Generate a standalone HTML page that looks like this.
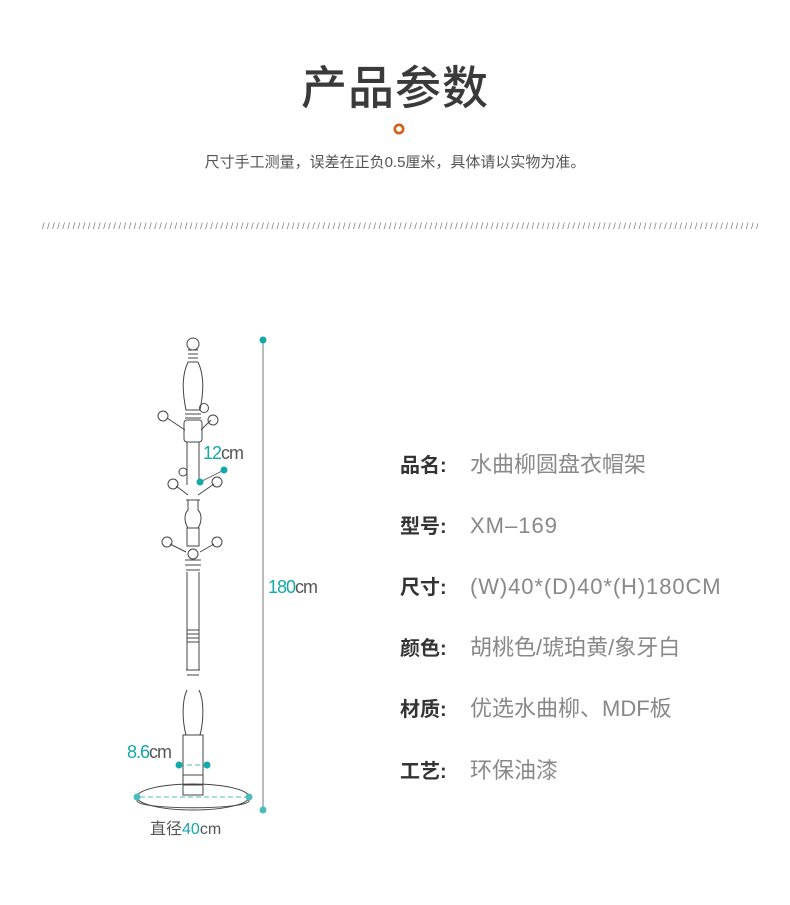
<!DOCTYPE html>
<html><head><meta charset="utf-8"><style>
body{margin:0;width:790px;height:905px;background:#fff;position:relative;overflow:hidden;font-family:"Liberation Sans","Noto Sans CJK SC",sans-serif}
.t{position:absolute;left:0;width:790px;text-align:center}
.row{position:absolute;left:400px;font-size:20px;line-height:26px;white-space:nowrap}
.row b{color:#333;font-weight:bold;display:inline-block;width:70px}
.row span{color:#888;font-size:22px}
</style></head><body>
<div class="t" style="top:60px;font-size:46px;line-height:56px;color:#3a3a3a;font-weight:500;letter-spacing:1px">产品参数</div>
<svg style="position:absolute;left:392px;top:122px" width="14" height="14"><circle cx="7" cy="7" r="4.2" fill="none" stroke="#d2601a" stroke-width="2.6"/></svg>
<div class="t" style="top:153px;font-size:15px;line-height:20px;color:#555">尺寸手工测量，误差在正负0.5厘米，具体请以实物为准。</div>
<div style="position:absolute;left:42px;top:221px;width:716px;overflow:hidden;white-space:nowrap;font-size:9px;color:#777;letter-spacing:2.6px">////////////////////////////////////////////////////////////////////////////////////////////////////////////////////////////////////////////////////////////////////////////////////////////////////////////////////////////</div>

<svg style="position:absolute;left:0;top:0" width="790" height="905" fill="none" stroke="#444" stroke-width="1">
 <line x1="263" y1="340" x2="263" y2="810" stroke="#777"/>
 <circle cx="263" cy="340" r="3.5" fill="#14a8a8" stroke="none"/>
 <circle cx="263" cy="810" r="3.5" fill="#4bbcbc" stroke="none"/>
 <circle cx="193" cy="344" r="6"/>
 <path d="M188 350 h10 M188 354 h10 M188 358 h10 M188 362 h10"/>
 <path d="M188 362 C182 375,182 390,186 410 L200 410 C204 390,204 375,198 362"/>
 <path d="M186 410 h14 M185 414 h16 M185 418 h16"/>
 <rect x="184" y="420" width="18" height="22" rx="3"/>
 <line x1="187" y1="442" x2="187" y2="485"/><line x1="199" y1="442" x2="199" y2="485"/>
 <path d="M185 430 L167 418"/><circle cx="163" cy="416" r="5"/>
 <path d="M201 430 L211 420"/><circle cx="213" cy="420" r="5"/>
 <circle cx="204" cy="408" r="4.5"/>
 <path d="M188 495 L176 486"/><circle cx="173" cy="484" r="5"/>
 <path d="M198 495 L214 484"/><circle cx="217" cy="482" r="5"/>
 <circle cx="183" cy="472" r="4"/>
 <path d="M186 500 h14 M188 500 v10 C184 514,184 522,188 528 M198 500 v10 C202 514,202 522,198 528"/>
 <rect x="187" y="528" width="12" height="18"/>
 <path d="M186 552 L170 544"/><circle cx="167" cy="542" r="5"/>
 <path d="M200 552 L214 544"/><circle cx="217" cy="542" r="5"/>
 <circle cx="193" cy="554" r="5"/>
 <path d="M185 560 h16 M185 565 h16 M186 570 h14"/>
 <path d="M187 572 V670 M199 572 V670"/>
 <path d="M187 630 h12 M187 634 h12 M187 638 h12 M187 642 h12"/>
 <path d="M186 670 h14 M187 675 h12"/>
 <path d="M187 690 C182 700,182 720,186 735 L200 735 C204 720,204 700,199 690"/>
 <rect x="183" y="735" width="20" height="60"/>
 <path d="M183 775 h20 M183 785 h20"/>
 <ellipse cx="193" cy="797" rx="56" ry="13"/>
 <path d="M137 797 v4 C140 810,246 810,249 801 v-4"/>
 <line x1="140" y1="797" x2="247" y2="797" stroke="#4bbcbc" stroke-dasharray="5 3"/>
 <circle cx="137" cy="797" r="3.5" fill="#4bbcbc" stroke="none"/>
 <circle cx="249" cy="797" r="3.5" fill="#4bbcbc" stroke="none"/>
 <line x1="179" y1="765" x2="207" y2="765" stroke="#4bbcbc" stroke-dasharray="5 3"/>
 <circle cx="179" cy="765" r="3.5" fill="#14a8a8" stroke="none"/>
 <circle cx="207" cy="765" r="3.5" fill="#14a8a8" stroke="none"/>
 <line x1="200" y1="482" x2="224" y2="470" stroke="#777"/>
 <circle cx="200" cy="482" r="3.5" fill="#14a8a8" stroke="none"/>
 <circle cx="224" cy="470" r="3.5" fill="#14a8a8" stroke="none"/>
 <g font-family="Liberation Sans,sans-serif" font-size="18" stroke="none" letter-spacing="-1">
  <text x="203" y="459" fill="#14a8a8">12<tspan fill="#555">cm</tspan></text>
  <text x="268" y="593" fill="#14a8a8">180<tspan fill="#555">cm</tspan></text>
  <text x="127" y="758" fill="#14a8a8">8.6<tspan fill="#555">cm</tspan></text>
  <text x="150" y="834" fill="#555" font-size="16" letter-spacing="0" font-family="Liberation Sans,Noto Sans CJK SC,sans-serif">直径<tspan fill="#14a8a8">40</tspan>cm</text>
 </g>
</svg>

<div class="row" style="top:452px"><b>品名:</b><span>水曲柳圆盘衣帽架</span></div>
<div class="row" style="top:513px"><b>型号:</b><span style="letter-spacing:1px">XM–169</span></div>
<div class="row" style="top:574px"><b>尺寸:</b><span style="letter-spacing:0.9px">(W)40*(D)40*(H)180CM</span></div>
<div class="row" style="top:635px"><b>颜色:</b><span>胡桃色/琥珀黄/象牙白</span></div>
<div class="row" style="top:696px"><b>材质:</b><span>优选水曲柳、MDF板</span></div>
<div class="row" style="top:758px"><b>工艺:</b><span>环保油漆</span></div>
</body></html>
